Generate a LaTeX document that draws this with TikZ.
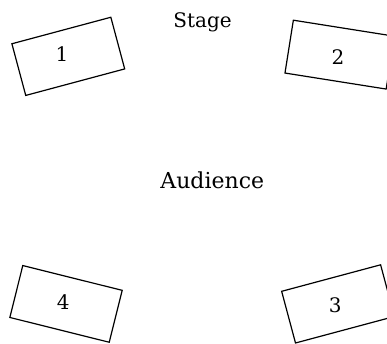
\documentclass[tikz,border=0pt]{standalone}
\usepackage{fontspec}
\setmainfont{DejaVu Serif}

\tikzset{
    seatbox/.style={draw, line width=0.6pt, minimum width=1.80cm, minimum height=0.94cm, inner sep=0pt},
    seatnum/.style={font=\normalsize}
}

\begin{document}
\begin{tikzpicture}[scale=1.0]

        \useasboundingbox (0,0) rectangle (6.80,6.03);

        % Stage and audience
        \node[anchor=base] (stage) at (3.56,5.55) {Stage};
        \node[anchor=base,font=\fontsize{11}{13}\selectfont] (audience) at (3.73,2.72) {Audience};

        % Boxes 1 and 2
        \node[seatbox,rotate=15] (box1) at (1.20,5.04) {};
        \node[seatnum] (num1) at (1.09,5.08) {1};
        \node[seatbox,rotate=-9] (box2) at (5.97,5.07) {};
        \node[seatnum] (num2) at (5.94,5.03) {2};

        % Boxes 3 and 4
        \node[seatbox,rotate=15] (box3) at (5.94,0.69) {};
        \node[seatnum] (num3) at (5.89,0.67) {3};
        \node[seatbox,rotate=-14] (box4) at (1.16,0.69) {};
        \node[seatnum] (num4) at (1.11,0.73) {4};

    \end{tikzpicture}
\end{document}
